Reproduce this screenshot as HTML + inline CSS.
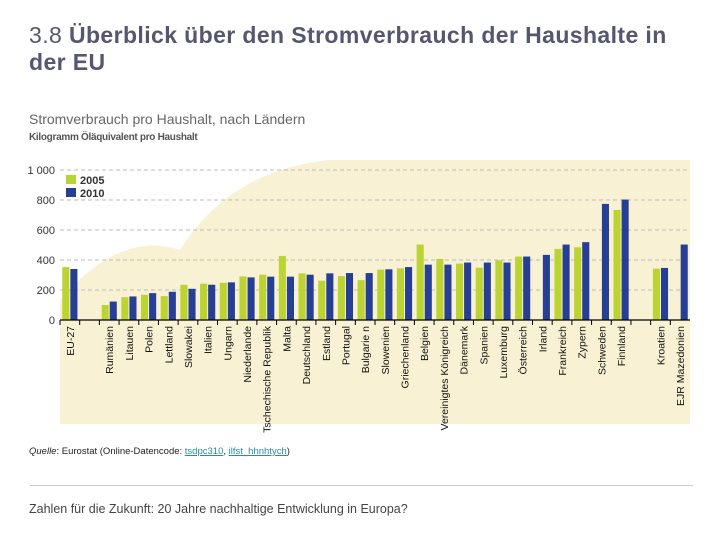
<!DOCTYPE html>
<html><head><meta charset="utf-8"><style>
body{margin:0;width:720px;height:540px;background:#fff;font-family:"Liberation Sans",sans-serif;overflow:hidden;position:relative}
.t{position:absolute;left:29px;top:22px;font-size:23px;line-height:27px;color:#55566f;width:690px;letter-spacing:0.4px;white-space:nowrap}
.t b{font-weight:bold}
.s{position:absolute;left:29px;top:111px;font-size:14px;color:#666}
.u{position:absolute;left:29px;top:132px;font-size:10px;font-weight:bold;color:#555;letter-spacing:-0.3px}
.q{position:absolute;left:29px;top:446px;font-size:9.5px;color:#222}
.q a{color:#2a8c9a;text-decoration:underline}
.hr{position:absolute;left:30px;top:485px;width:663px;height:1px;background:#ccc}
.f{position:absolute;left:29px;top:502px;font-size:12.5px;color:#444}
</style></head><body>
<div class="t">3.8 <b>Überblick über den Stromverbrauch der Haushalte in<br>der EU</b></div>
<div class="s">Stromverbrauch pro Haushalt, nach Ländern</div>
<div class="u">Kilogramm Öläquivalent pro Haushalt</div>
<svg id="c" width="720" height="540" style="position:absolute;left:0;top:0"></svg>
<div class="q"><i>Quelle</i>: Eurostat (Online-Datencode: <a>tsdpc310</a>, <a>ilfst_hhnhtych</a>)</div>
<div class="hr"></div>
<div class="f">Zahlen für die Zukunft: 20 Jahre nachhaltige Entwicklung in Europa?</div>
<script>
const categories=["EU-27","","Rumänien","Litauen","Polen","Lettland","Slowakei","Italien","Ungarn","Niederlande","Tschechische Republik","Malta","Deutschland","Estland","Portugal","Bulgarie n","Slowenien","Griechenland","Belgien","Vereinigtes Königreich","Dänemark","Spanien","Luxemburg","Österreich","Irland","Frankreich","Zypern","Schweden","Finnland","","Kroatien","EJR Mazedonien"];
const values2005=[353,null,100,152,168,159,235,242,248,291,302,427,311,262,293,266,336,345,503,407,376,349,398,423,null,474,485,null,734,null,342,null];
const values2010=[340,null,123,157,179,188,208,235,251,284,289,289,302,311,313,313,338,353,369,369,383,383,383,423,434,503,519,774,803,null,347,503];
const yTicks=[0,200,400,600,800,1000];
const yTickLabels=["0","200","400","600","800","1 000"];
const NS="http://www.w3.org/2000/svg",svg=document.getElementById('c');
const x0=60,x1=690,y0=320,yTop=170;
const slot=(x1-x0)/categories.length;
const y=v=>y0-(v/1000)*(y0-yTop);
const xs=i=>x0+i*slot;
function mk(t,a){const e=document.createElementNS(NS,t);for(const k in a)e.setAttribute(k,a[k]);svg.appendChild(e);return e;}
let bg=mk('path',{d:"M60 424 L60 300 Q120 230 180 250 Q230 170 330 160 L690 160 L690 424 Z",fill:"#f8f1d4"});

yTicks.forEach((v,i)=>{
 if(v>0){const g=mk('line',{x1:x0,x2:x1,y1:y(v),y2:y(v),stroke:"#bbb","stroke-dasharray":"4,3","stroke-width":1});
 }
 const t=mk('text',{x:55,y:y(v)+4,"text-anchor":"end","font-size":11,fill:"#333"});t.textContent=yTickLabels[i];
 
});
const bw=slot*0.36;
categories.forEach((c,i)=>{
 const cx=xs(i)+slot/2;
 if(values2005[i]!=null){const r=mk('rect',{x:cx-bw-0.5,y:y(values2005[i]),width:bw,height:y0-y(values2005[i]),fill:"#bcd433"});
 }
 if(values2010[i]!=null){const r=mk('rect',{x:cx+0.5,y:y(values2010[i]),width:bw,height:y0-y(values2010[i]),fill:"#263f94"});
 }
 const tk=mk('line',{x1:xs(i),x2:xs(i),y1:y0,y2:y0+5,stroke:"#000"});
 
 if(c){const t=mk('text',{x:0,y:0,"text-anchor":"end","font-size":10.5,fill:"#111",transform:`translate(${cx+4},${y0+6}) rotate(-90)`});t.textContent=c;
 }
});
const ax=mk('line',{x1:x0,x2:x1,y1:y0,y2:y0,stroke:"#000","stroke-width":1.2});

const l1=mk('rect',{x:66,y:175,width:10,height:9,fill:"#bcd433"});
const l2=mk('rect',{x:66,y:188,width:10,height:9,fill:"#263f94"});
const t1=mk('text',{x:80,y:184,"font-size":11,"font-weight":"bold",fill:"#333"});t1.textContent="2005";
const t2=mk('text',{x:80,y:197,"font-size":11,"font-weight":"bold",fill:"#333"});t2.textContent="2010";
</script>
</body></html>
